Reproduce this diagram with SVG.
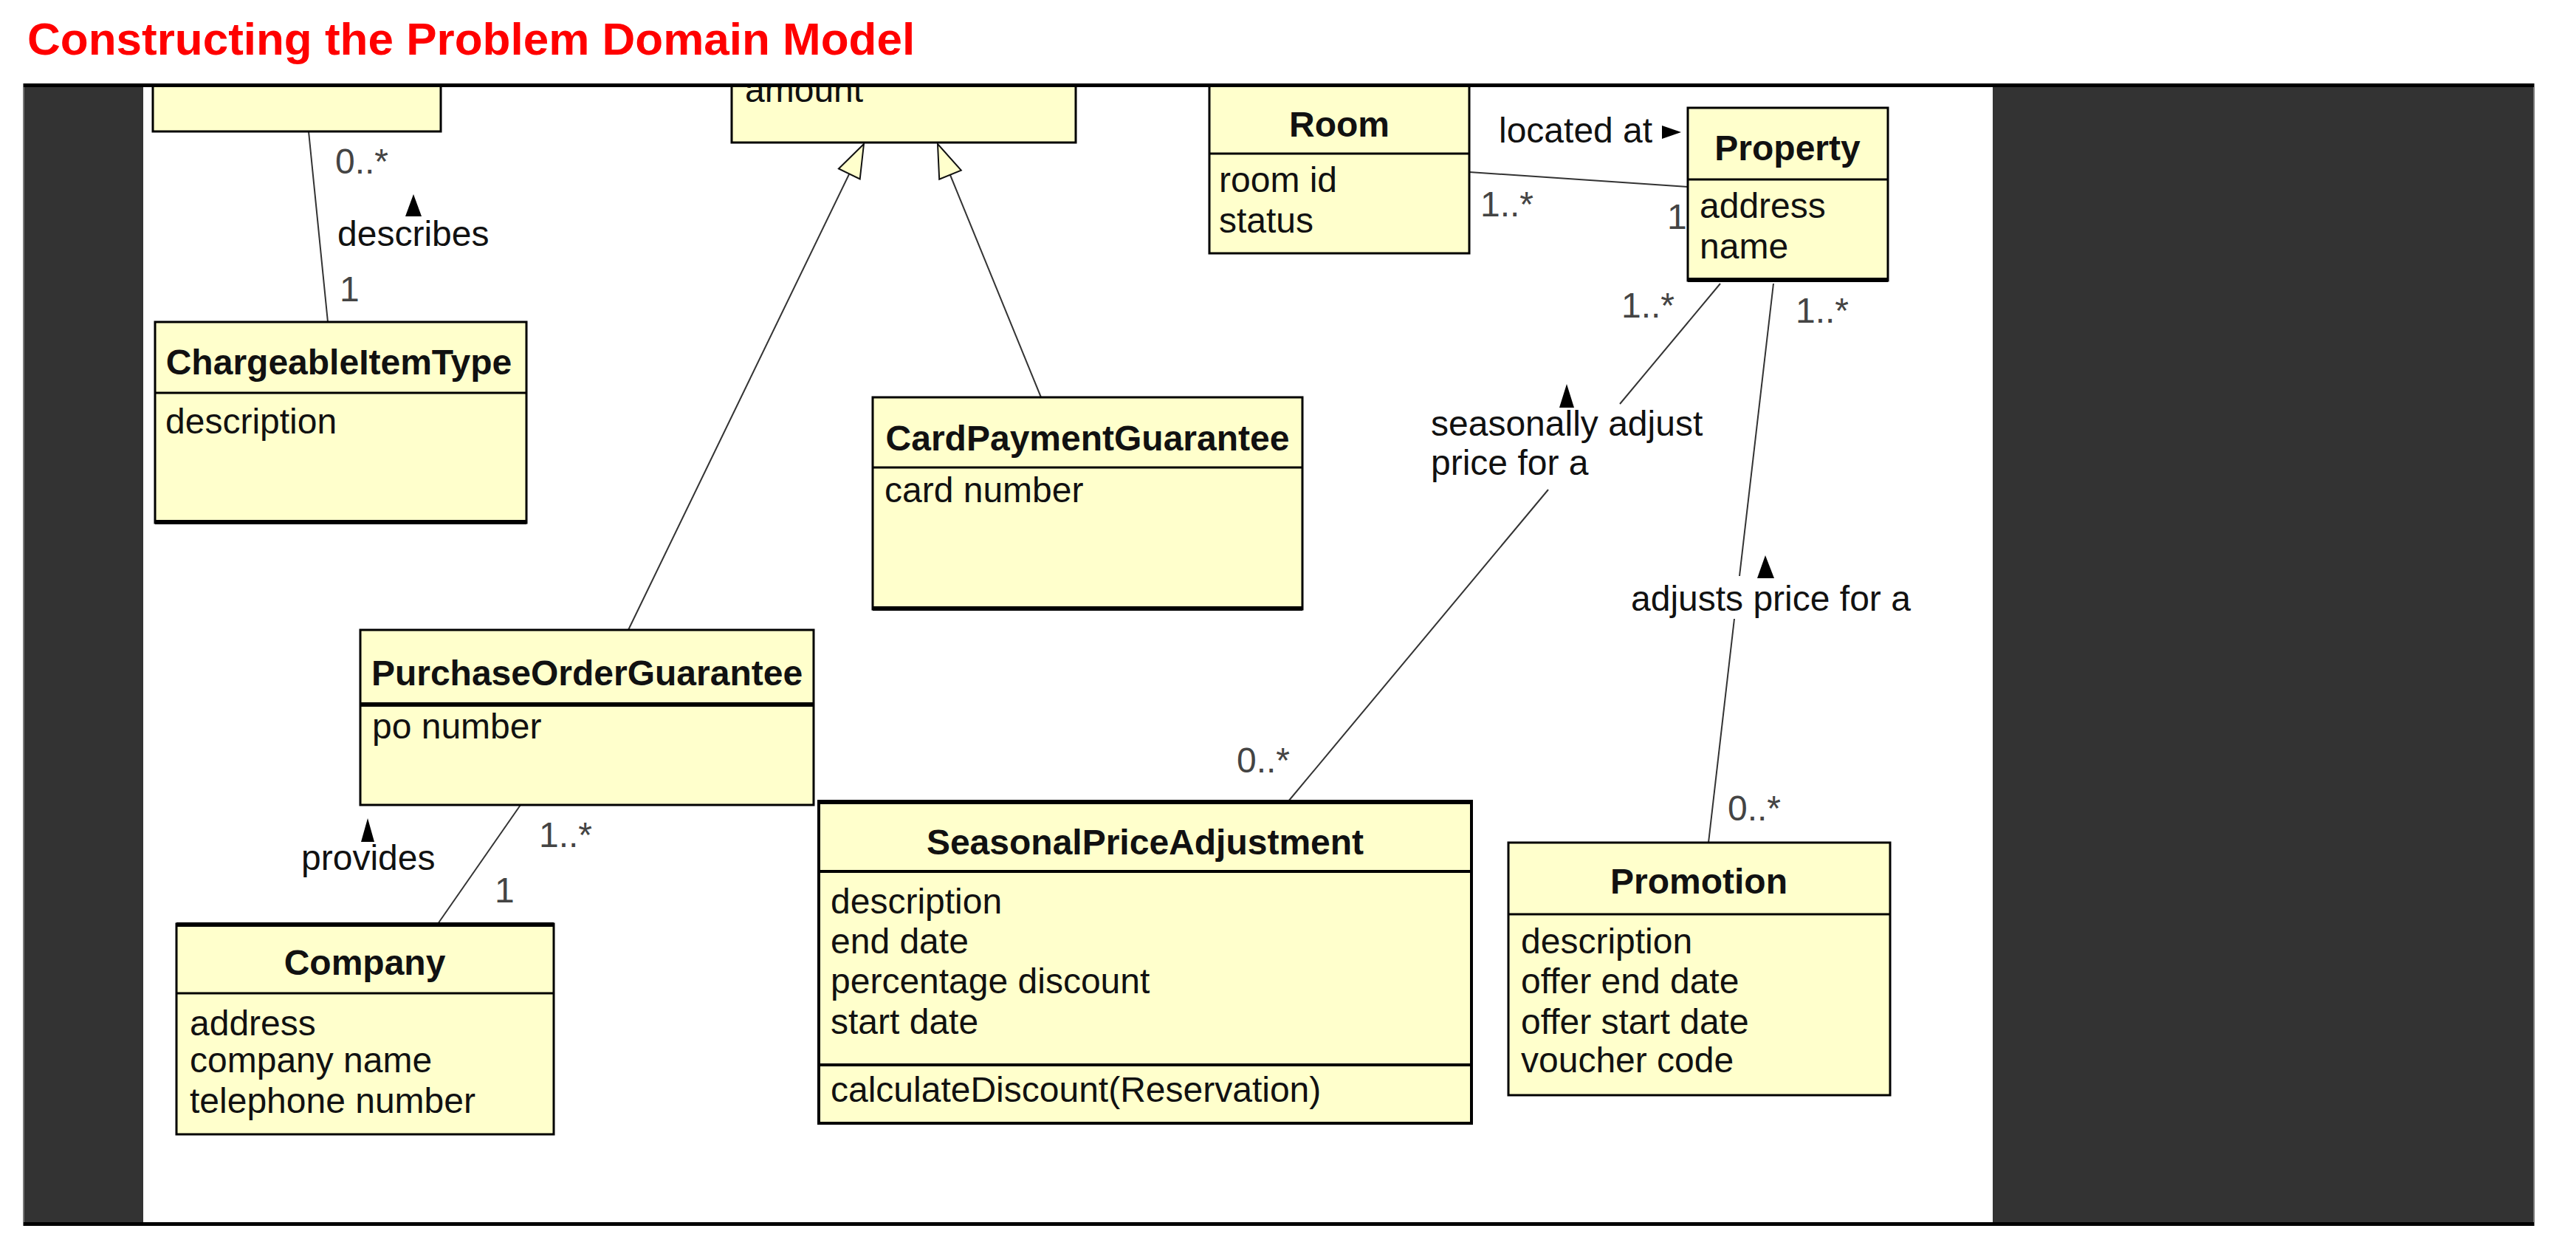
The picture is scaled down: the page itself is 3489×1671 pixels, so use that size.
<svg xmlns="http://www.w3.org/2000/svg" width="3489" height="1671" viewBox="0 0 3489 1671">
<style>
.box{fill:#ffffcc;stroke:#000;stroke-width:3}
.dv{stroke:#000;stroke-width:3}
.thick{stroke:#000;stroke-width:6}
.t{font-family:"Liberation Sans",Arial,sans-serif;font-size:48px;fill:#111}
.ti{font-weight:bold;text-anchor:middle}
.m{fill:#444}
#connectors line{stroke:#333;stroke-width:2}
.gen{fill:#ffffcc;stroke:#111;stroke-width:2}
.arr{fill:#000}
</style>
<defs>
<clipPath id="area"><rect x="194" y="117" width="2505" height="1538"/></clipPath>
</defs>
<rect x="0" y="0" width="3489" height="1671" fill="#fff"/>
<text x="37" y="74" font-family="Liberation Sans, Arial, sans-serif" font-size="62" font-weight="bold" fill="#f00">Constructing the Problem Domain Model</text>
<g id="frame">
<rect x="32" y="114" width="3400" height="1545" fill="#333" stroke="#777" stroke-width="2"/>
<rect x="194" y="117" width="2505" height="1538" fill="#fff"/>
</g>
<g clip-path="url(#area)">
<g id="connectors">
<line x1="418" y1="178" x2="444" y2="436"/>
<line x1="1150" y1="236" x2="851" y2="853"/>
<line x1="1287" y1="237" x2="1410" y2="538"/>
<line x1="1990" y1="233" x2="2286" y2="253"/>
<line x1="2330" y1="384" x2="2194" y2="547"/>
<line x1="2097" y1="663" x2="1745" y2="1085"/>
<line x1="2402" y1="384" x2="2356" y2="780"/>
<line x1="2349" y1="838" x2="2314" y2="1141"/>
<line x1="705" y1="1090" x2="593" y2="1251"/>
<polygon class="gen" points="1170,195 1164.7,242.5 1135.9,228.5"/>
<polygon class="gen" points="1270,195 1301.8,230.6 1272.2,242.7"/>
<polygon class="arr" points="560,263 571,293 549,293"/>
<polygon class="arr" points="2122,520 2132,552 2112,552"/>
<polygon class="arr" points="2391,752 2403,783 2380,783"/>
<polygon class="arr" points="498,1108 507,1140 489,1140"/>
<polygon class="arr" points="2277,179 2251,170 2251,188"/>
<text class="t m" x="454" y="235">0..*</text>
<text class="t" x="457" y="333">describes</text>
<text class="t m" x="460" y="408">1</text>
<text class="t" x="2030" y="193">located at</text>
<text class="t m" x="2005" y="293">1..*</text>
<text class="t m" x="2258" y="310">1</text>
<text class="t m" x="2196" y="430">1..*</text>
<text class="t m" x="2432" y="437">1..*</text>
<text class="t" x="1938" y="590">seasonally adjust</text>
<text class="t" x="1938" y="643">price for a</text>
<text class="t" x="2209" y="827">adjusts price for a</text>
<text class="t m" x="1675" y="1046">0..*</text>
<text class="t m" x="2340" y="1111">0..*</text>
<text class="t m" x="730" y="1147">1..*</text>
<text class="t m" x="670" y="1222">1</text>
<text class="t" x="408" y="1178">provides</text>
</g>
<g id="node-chargeable-item">
<rect class="box" x="207" y="90" width="390" height="88"/>
</g>
<g id="node-guarantee">
<rect class="box" x="991" y="80" width="466" height="113"/>
<text class="t" x="1009" y="138">amount</text>
</g>
<g id="node-chargeableitemtype">
<rect class="box" x="210" y="436" width="503" height="272"/>
<line class="dv" x1="210" y1="532" x2="713" y2="532"/>
<line class="thick" x1="210" y1="707" x2="713" y2="707"/>
<text class="t ti" x="459" y="507">ChargeableItemType</text>
<text class="t" x="224" y="587">description</text>
</g>
<g id="node-cardpaymentguarantee">
<rect class="box" x="1182" y="538" width="582" height="287"/>
<line class="dv" x1="1182" y1="633" x2="1764" y2="633"/>
<line class="thick" x1="1182" y1="824" x2="1764" y2="824"/>
<text class="t ti" x="1473" y="610">CardPaymentGuarantee</text>
<text class="t" x="1198" y="680">card number</text>
</g>
<g id="node-room">
<rect class="box" x="1638" y="80" width="352" height="263"/>
<line class="dv" x1="1638" y1="208" x2="1990" y2="208"/>
<text class="t ti" x="1814" y="185">Room</text>
<text class="t" x="1651" y="260">room id</text>
<text class="t" x="1651" y="315">status</text>
</g>
<g id="node-property">
<rect class="box" x="2286" y="146" width="271" height="234"/>
<line class="dv" x1="2286" y1="243" x2="2557" y2="243"/>
<line class="thick" x1="2286" y1="379" x2="2557" y2="379"/>
<text class="t ti" x="2421" y="217">Property</text>
<text class="t" x="2302" y="295">address</text>
<text class="t" x="2302" y="350">name</text>
</g>
<g id="node-purchaseorderguarantee">
<rect class="box" x="488" y="853" width="614" height="237"/>
<line class="thick" x1="488" y1="954" x2="1102" y2="954"/>
<text class="t ti" x="795" y="928">PurchaseOrderGuarantee</text>
<text class="t" x="504" y="1000">po number</text>
</g>
<g id="node-company">
<rect class="box" x="239" y="1251" width="511" height="285"/>
<line class="thick" x1="239" y1="1252" x2="750" y2="1252"/>
<line class="dv" x1="239" y1="1345" x2="750" y2="1345"/>
<text class="t ti" x="494" y="1320">Company</text>
<text class="t" x="257" y="1402">address</text>
<text class="t" x="257" y="1452">company name</text>
<text class="t" x="257" y="1507">telephone number</text>
</g>
<g id="node-seasonalpriceadjustment">
<rect class="box" x="1109" y="1085" width="884" height="436" style="stroke-width:4"/>
<line class="thick" x1="1109" y1="1086" x2="1993" y2="1086"/>
<line class="dv" x1="1109" y1="1180" x2="1993" y2="1180" style="stroke-width:4"/>
<line class="dv" x1="1109" y1="1442" x2="1993" y2="1442" style="stroke-width:4"/>
<text class="t ti" x="1551" y="1157">SeasonalPriceAdjustment</text>
<text class="t" x="1125" y="1237">description</text>
<text class="t" x="1125" y="1291">end date</text>
<text class="t" x="1125" y="1345">percentage discount</text>
<text class="t" x="1125" y="1400">start date</text>
<text class="t" x="1125" y="1492">calculateDiscount(Reservation)</text>
</g>
<g id="node-promotion">
<rect class="box" x="2043" y="1141" width="517" height="342"/>
<line class="dv" x1="2043" y1="1238" x2="2560" y2="1238"/>
<text class="t ti" x="2301" y="1210">Promotion</text>
<text class="t" x="2060" y="1291">description</text>
<text class="t" x="2060" y="1345">offer end date</text>
<text class="t" x="2060" y="1400">offer start date</text>
<text class="t" x="2060" y="1452">voucher code</text>
</g>
</g>
<rect x="32" y="113" width="3400" height="5" fill="#000"/>
<rect x="32" y="1655" width="3400" height="5" fill="#000"/>
</svg>
